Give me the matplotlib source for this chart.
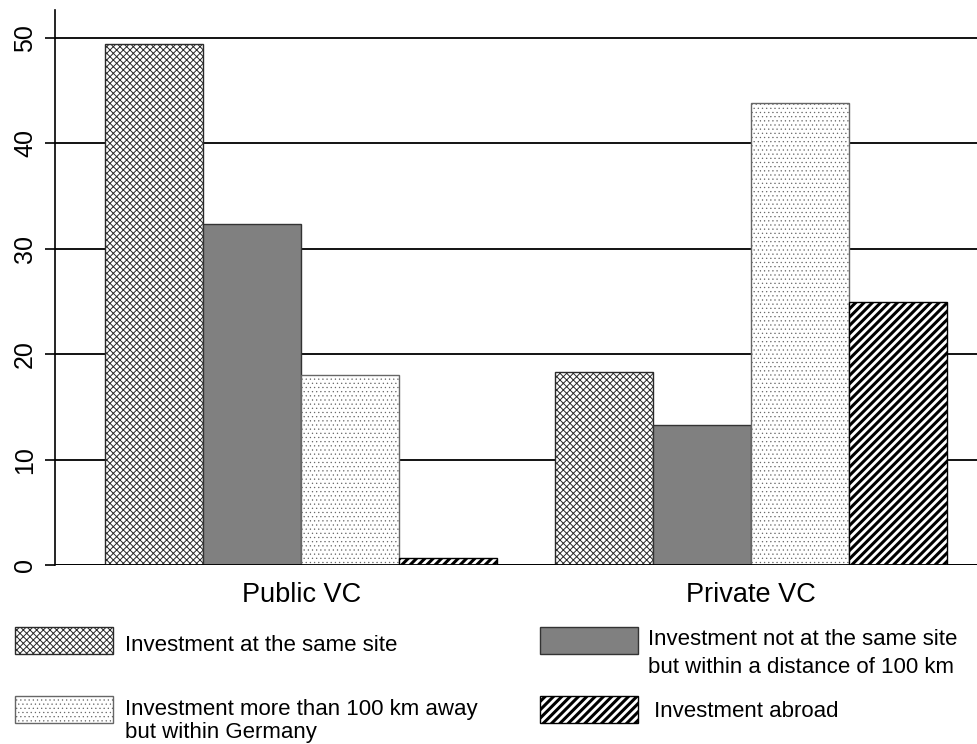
import matplotlib.pyplot as plt
import numpy as np
from matplotlib.patches import Rectangle

plt.rcParams['font.family'] = ['Liberation Sans', 'DejaVu Sans']

groups = ["Public VC", "Private VC"]
labels = ["Investment at the same site",
          "Investment not at the same site\nbut within a distance of 100 km",
          "Investment more than 100 km away\nbut within Germany",
          " Investment abroad"]
same_site = [49.4, 18.3]
within_100 = [32.4, 13.3]
within_de = [18.0, 43.8]
abroad = [0.7, 25.0]

series = [same_site, within_100, within_de, abroad]
styles = [
    dict(facecolor="white", edgecolor="#2a2a2a", hatch="xxxxx", hlw=0.7),
    dict(facecolor="#808080", edgecolor="#333333", hatch=None, hlw=1.0),
    dict(facecolor="white", edgecolor="#666666", hatch="....", hlw=0.4),
    dict(facecolor="white", edgecolor="black", hatch="////", hlw=2.2),
]

W, H = 978, 744
fig = plt.figure(figsize=(W / 100, H / 100), dpi=100)
ax = fig.add_axes([55 / W, 1 - 565 / H, 1 - 55 / W, 555 / H])

x = np.arange(len(groups))
w = 0.218
offsets = [-1.5, -0.5, 0.5, 1.5]
for vals, st, off in zip(series, styles, offsets):
    bars = ax.bar(x + off * w, vals, w, facecolor=st["facecolor"],
                  edgecolor=st["edgecolor"], hatch=st["hatch"], linewidth=1.0, zorder=3)
    for b in bars:
        try:
            b.set_hatch_linewidth(st["hlw"])
        except AttributeError:
            pass

ax.set_xlim(-0.547, 1.504)
ax.set_ylim(0, 52.66)
ax.set_yticks([0, 10, 20, 30, 40, 50])
ax.set_yticklabels(["0", "10", "20", "30", "40", "50"], rotation=90, va="center", fontsize=18)
ax.tick_params(axis="y", length=7, width=1.2, pad=6)
ax.tick_params(axis="x", length=0, labelsize=19.5, pad=12)
ax.set_xticks(x)
ax.set_xticklabels(groups)
ax.yaxis.grid(True, color="black", linewidth=1.3, zorder=0)
ax.axhline(0, color="black", linewidth=1.3, zorder=4)
for s in ["top", "right", "bottom"]:
    ax.spines[s].set_visible(False)
ax.spines["left"].set_linewidth(1.2)


# legend drawn by hand: box left/top in pixels, text x and first baseline
def legend_entry(st, bx, btop, tx, base, text, pitch):
    r = Rectangle((bx / W, 1 - (btop + 27) / H), 98 / W, 27 / H, transform=fig.transFigure,
                  facecolor=st["facecolor"], edgecolor=st["edgecolor"], hatch=st["hatch"],
                  linewidth=1.0)
    try:
        r.set_hatch_linewidth(st["hlw"])
    except AttributeError:
        pass
    fig.add_artist(r)
    for i, line in enumerate(text.split("\n")):
        fig.text(tx / W, 1 - (base + i * pitch) / H, line, fontsize=16, va="baseline", ha="left")


legend_entry(styles[0], 15, 627, 125, 651, labels[0], 23)
legend_entry(styles[2], 15, 696, 125, 715, labels[2], 23)
legend_entry(styles[1], 540, 627, 648, 645, labels[1], 28)
legend_entry(styles[3], 540, 696, 648, 717, labels[3], 28)

plt.savefig("out.png", dpi=100)
